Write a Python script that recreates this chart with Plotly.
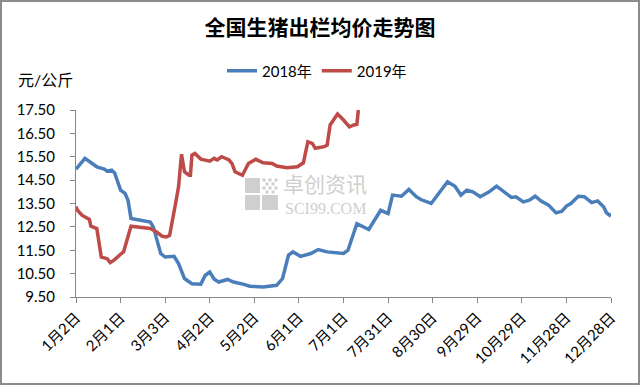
import plotly.graph_objects as go

title_text = "全国生猪出栏均价走势图"
unit_label = "元/公斤"
series_names = ["2018年", "2019年"]

# month-day of each observation (both years plotted on a common Jan-Dec axis)
dates_2018 = ["01-02", "01-08", "01-16", "01-21", "01-23", "01-26", "01-28", "02-01",
              "02-04", "02-06", "02-08", "02-21", "02-23", "02-28", "03-03", "03-09",
              "03-12", "03-16", "03-21", "03-27", "03-30", "04-02", "04-05", "04-08",
              "04-14", "04-18", "04-25", "04-29", "05-08", "05-17", "05-21", "05-25",
              "05-28", "06-02", "06-09", "06-14", "06-20", "06-25", "07-01", "07-04",
              "07-10", "07-18", "07-26", "07-31", "08-03", "08-09", "08-14", "08-19",
              "08-22", "08-29", "09-02", "09-09", "09-14", "09-18", "09-22", "09-26",
              "10-01", "10-07", "10-12", "10-17", "10-22", "10-25", "10-30", "11-03",
              "11-07", "11-11", "11-16", "11-21", "11-25", "11-28", "12-01", "12-06",
              "12-10", "12-15", "12-19", "12-23", "12-25", "12-27", "12-28"]
values_2018 = [14.97, 15.43, 15.07, 14.97, 14.88, 14.93, 14.81, 14.07,
               13.93, 13.64, 12.86, 12.71, 12.50, 11.36, 11.21, 11.24,
               10.93, 10.29, 10.07, 10.05, 10.43, 10.57, 10.26, 10.14,
               10.25, 10.14, 10.04, 9.96, 9.93, 10.00, 10.29, 11.29,
               11.43, 11.24, 11.36, 11.53, 11.43, 11.39, 11.36, 11.50,
               12.64, 12.39, 13.21, 13.07, 13.86, 13.81, 14.10, 13.79,
               13.67, 13.50, 13.86, 14.43, 14.24, 13.86, 14.07, 14.00,
               13.79, 14.00, 14.24, 14.00, 13.76, 13.79, 13.57, 13.64,
               13.81, 13.60, 13.43, 13.10, 13.17, 13.39, 13.50, 13.81,
               13.79, 13.54, 13.61, 13.36, 13.10, 13.00, 13.06]

dates_2019 = ["01-02", "01-03", "01-06", "01-09", "01-11", "01-12", "01-16", "01-19",
              "01-23", "01-25", "01-28", "02-01", "02-03", "02-08", "02-14", "02-21",
              "02-25", "03-01", "03-04", "03-06", "03-10", "03-12", "03-14", "03-16",
              "03-19", "03-20", "03-21", "03-23", "03-27", "04-02", "04-05", "04-07",
              "04-10", "04-15", "04-17", "04-19", "04-24", "04-26", "04-28", "05-03",
              "05-08", "05-14", "05-17", "05-24", "05-31", "06-04", "06-07", "06-10",
              "06-12", "06-18", "06-20", "06-22", "06-27", "07-01", "07-05", "07-08",
              "07-10", "07-11"]
values_2019 = [13.36, 13.21, 13.00, 12.90, 12.82, 12.53, 12.43, 11.21,
               11.14, 10.97, 11.10, 11.33, 11.43, 12.53, 12.50, 12.43,
               12.29, 12.10, 12.07, 12.14, 13.50, 14.21, 15.61, 14.86,
               14.71, 14.71, 15.57, 15.64, 15.40, 15.31, 15.43, 15.36,
               15.50, 15.36, 15.21, 14.86, 14.71, 14.93, 15.21, 15.39,
               15.24, 15.21, 15.10, 15.03, 15.07, 15.24, 16.14, 16.07,
               15.86, 15.93, 16.00, 16.86, 17.33, 17.07, 16.78, 16.86,
               16.89, 17.50]

tick_dates = ["01-02", "02-01", "03-03", "04-02", "05-02", "06-01", "07-01",
              "07-31", "08-30", "09-29", "10-29", "11-28", "12-28"]
tick_labels = ["1月2日", "2月1日", "3月3日", "4月2日", "5月2日", "6月1日", "7月1日",
               "7月31日", "8月30日", "9月29日", "10月29日", "11月28日", "12月28日"]
y_ticks = [9.5, 10.5, 11.5, 12.5, 13.5, 14.5, 15.5, 16.5, 17.5]

watermark_cn = "卓创资讯"
watermark_en = "SCI99.COM"

AXIS_YEAR = "2018"


def on_axis(mds):
    return [f"{AXIS_YEAR}-{d}" for d in mds]


BLUE = "#4A7EBB"
RED = "#BE4B48"
AXIS_C = "#868686"
FONT = "Lato, 'Noto Sans CJK SC', sans-serif"

fig = go.Figure()
fig.add_trace(go.Scatter(x=on_axis(dates_2018), y=values_2018, mode="lines",
                         name=series_names[0], line=dict(color=BLUE, width=3.5)))
fig.add_trace(go.Scatter(x=on_axis(dates_2019), y=values_2019, mode="lines",
                         name=series_names[1], line=dict(color=RED, width=3.5)))

L, R, T, B = 76, 29, 110, 88
W, H = 640, 385
PW, PH = W - L - R, H - T - B


def px(xp):
    return (xp - L) / PW


def py(yp):
    return (H - B - yp) / PH


shapes = [
    # outer chart border
    dict(type="rect", xref="paper", yref="paper", x0=px(1), x1=px(639), y0=py(384), y1=py(1),
         line=dict(color="#8C8C8C", width=2), fillcolor="rgba(0,0,0,0)", layer="below"),
]
# watermark logo blocks
wm = "#CFCFCF"
for (x0, y0, x1, y1) in [(245, 178, 260, 193), (245, 195, 260, 210), (262, 195, 278, 210)]:
    shapes.append(dict(type="rect", xref="paper", yref="paper", x0=px(x0), x1=px(x1),
                       y0=py(y1), y1=py(y0), line=dict(width=0), fillcolor=wm, layer="below"))
for (cx, cy) in [(264, 180), (270, 180), (276, 180), (267, 184), (273, 184),
                 (264, 188), (270, 188), (276, 188), (267, 192), (273, 192)]:
    shapes.append(dict(type="rect", xref="paper", yref="paper", x0=px(cx - 1.5), x1=px(cx + 1.5),
                       y0=py(cy + 1.5), y1=py(cy - 1.5), line=dict(width=0), fillcolor=wm,
                       layer="below"))

annotations = [
    dict(text=unit_label, xref="paper", yref="paper", x=px(16), y=py(79), xanchor="left",
         yanchor="middle", showarrow=False, font=dict(size=16, color="#000", family=FONT)),
    dict(text=watermark_cn, xref="paper", yref="paper", x=px(281), y=py(183), xanchor="left",
         yanchor="middle", showarrow=False,
         font=dict(size=21, color=wm, family="'Noto Sans CJK SC'")),
    dict(text=watermark_en, xref="paper", yref="paper", x=px(283), y=py(208), xanchor="left",
         yanchor="middle", showarrow=False,
         font=dict(size=16, color=wm, family="'Liberation Serif', serif")),
]

fig.update_layout(
    width=W, height=H,
    margin=dict(l=L, r=R, t=T, b=B, pad=0),
    paper_bgcolor="white", plot_bgcolor="white",
    font=dict(family=FONT, color="#000", size=15),
    title=dict(text=f"<b>{title_text}</b>", x=0.5, xref="container", xanchor="center",
               y=1 - 28 / H, yref="container", yanchor="middle",
               font=dict(size=21, family="'Noto Sans CJK SC'", color="#000")),
    legend=dict(orientation="h", x=px(317), xanchor="center", y=py(71), yanchor="middle",
                font=dict(size=15, family=FONT), bgcolor="rgba(0,0,0,0)",
                itemwidth=30, tracegroupgap=0),
    showlegend=True,
    shapes=shapes,
    annotations=annotations,
    xaxis=dict(type="date", range=[f"{AXIS_YEAR}-{tick_dates[0]}", f"{AXIS_YEAR}-{tick_dates[-1]}"],
               tickvals=on_axis(tick_dates), ticktext=tick_labels, tickangle=-45,
               showline=True, linecolor=AXIS_C, linewidth=1, ticks="outside", ticklen=5,
               tickcolor=AXIS_C, showgrid=False, zeroline=False,
               tickfont=dict(size=15, family=FONT, color="#000")),
    yaxis=dict(range=[9.5, 17.5], tickvals=y_ticks, tickformat=".2f",
               showline=True, linecolor=AXIS_C, linewidth=1, ticks="outside", ticklen=5,
               tickcolor=AXIS_C, showgrid=False, zeroline=False, ticklabelstandoff=12,
               tickfont=dict(size=15, family=FONT, color="#000")),
)

fig.write_html("out.html")
